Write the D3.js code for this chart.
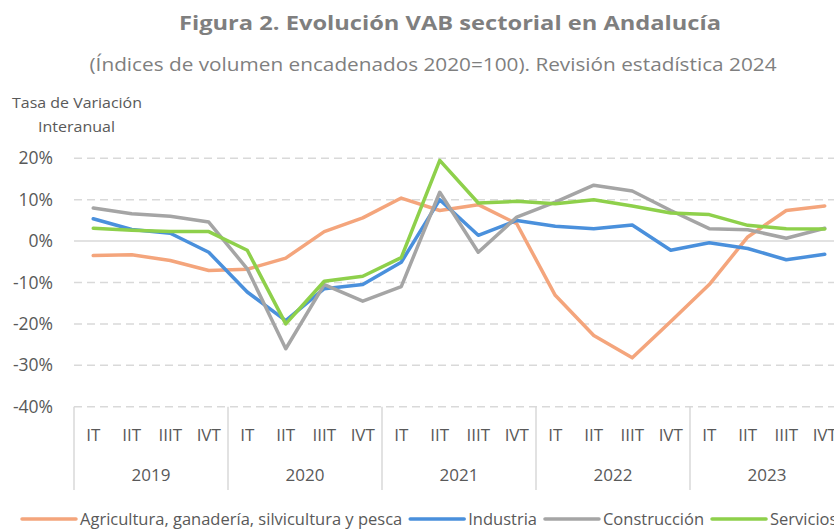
<!DOCTYPE html>
<html>
<head>
<meta charset="utf-8">
<script src="https://cdn.jsdelivr.net/npm/d3@7"></script>
<style>
  body { margin: 0; background: #fff; }
  svg { display: block; }
  .narrow { font-family: "Liberation Sans Narrow", "Open Sans", sans-serif; }
  .sans { font-family: "Open Sans", "Noto Sans", sans-serif; }
</style>
</head>
<body>
<div id="theChart"></div>
<script>
// quarters and years on the category axis
const years = ["2019", "2020", "2021", "2022", "2023"]
const quarters = ["IT", "IIT", "IIIT", "IVT"]
const yTicks = [20, 10, 0, -10, -20, -30, -40]

// series values (% year-on-year)
const agricultura = [-3.5, -3.3, -4.7, -7.1, -6.8, -4.1, 2.3, 5.6, 10.4, 7.4, 8.8, 4.2, -13.1, -22.8, -28.2, -19.4, -10.5, 1.0, 7.4, 8.5]
const industria = [5.4, 2.8, 1.9, -2.7, -12.3, -19.2, -11.5, -10.5, -5.1, 10.0, 1.4, 5.0, 3.6, 3.0, 3.9, -2.2, -0.4, -1.8, -4.5, -3.2]
const construccion = [8.0, 6.6, 6.0, 4.6, -6.7, -26.0, -10.5, -14.5, -11.0, 11.8, -2.7, 5.8, 9.4, 13.5, 12.1, 7.4, 3.0, 2.75, 0.7, 3.1]
const servicios = [3.1, 2.6, 2.3, 2.3, -2.2, -20.0, -9.7, -8.5, -4.0, 19.5, 9.2, 9.6, 9.0, 10.0, 8.5, 6.8, 6.4, 3.8, 3.0, 2.9]

const series = [
	{ name: "Agricultura, ganadería, silvicultura y pesca", values: agricultura, color: "#F4A57C" },
	{ name: "Industria", values: industria, color: "#4A90DC" },
	{ name: "Construcción", values: construccion, color: "#A5A5A5" },
	{ name: "Servicios", values: servicios, color: "#8ED04B" },
]

const w = 834
const h = 529
const plotLeft = 74
const plotRight = 844 // plot runs past the right edge, like the original
const plotTop = 158.3
const plotBottom = 406.7

const categories = []
years.forEach(y => quarters.forEach(q => categories.push(y + "-" + q)))

const svg = d3.select("#theChart").append("svg").attr("width", w).attr("height", h)

const x = d3.scaleBand().domain(categories).range([plotLeft, plotRight])
const xYear = d3.scaleBand().domain(years).range([plotLeft, plotRight])
const y = d3.scaleLinear().domain([-40, 20]).range([plotBottom, plotTop])

// title
svg.append("text")
	.attr("class", "sans")
	.attr("x", 450).attr("y", 30)
	.attr("text-anchor", "middle")
	.attr("font-size", 20).attr("font-weight", "bold")
	.attr("fill", "#7F7F7F")
	.attr("textLength", 542).attr("lengthAdjust", "spacingAndGlyphs")
	.text("Figura 2.  Evolución VAB sectorial en Andalucía")

svg.append("text")
	.attr("class", "sans")
	.attr("x", 433).attr("y", 71)
	.attr("text-anchor", "middle")
	.attr("font-size", 18.5)
	.attr("fill", "#7F7F7F")
	.attr("textLength", 687).attr("lengthAdjust", "spacingAndGlyphs")
	.text("(Índices de volumen encadenados 2020=100). Revisión estadística 2024")

// y axis title
svg.append("text")
	.attr("class", "sans")
	.attr("x", 12).attr("y", 108)
	.attr("font-size", 15).attr("fill", "#595959")
	.attr("textLength", 130).attr("lengthAdjust", "spacingAndGlyphs")
	.text("Tasa de Variación")
svg.append("text")
	.attr("class", "sans")
	.attr("x", 38).attr("y", 132)
	.attr("font-size", 15).attr("fill", "#595959")
	.attr("textLength", 77).attr("lengthAdjust", "spacingAndGlyphs")
	.text("Interanual")

// gridlines
svg.append("g")
	.selectAll("line")
	.data(yTicks)
	.enter()
	.append("line")
	.attr("x1", plotLeft).attr("x2", plotRight)
	.attr("y1", d => y(d)).attr("y2", d => y(d))
	.attr("stroke", "#D9D9D9")
	.attr("stroke-width", 1.5)
	.attr("stroke-dasharray", d => (d === 0 ? null : "8,5"))

// y tick labels
svg.append("g")
	.selectAll("text")
	.data(yTicks)
	.enter()
	.append("text")
	.attr("class", "sans")
	.attr("x", 53)
	.attr("y", d => y(d))
	.attr("dy", "0.35em")
	.attr("text-anchor", "end")
	.attr("font-size", 17.5)
	.attr("fill", "#595959")
	.text(d => d + "%")

// year separators under the plot
svg.append("g")
	.selectAll("line")
	.data(years)
	.enter()
	.append("line")
	.attr("x1", d => xYear(d)).attr("x2", d => xYear(d))
	.attr("y1", plotBottom).attr("y2", 490)
	.attr("stroke", "#D9D9D9")
	.attr("stroke-width", 1.5)

// quarter labels
svg.append("g")
	.selectAll("text")
	.data(categories)
	.enter()
	.append("text")
	.attr("class", "narrow")
	.attr("x", d => x(d) + x.bandwidth() / 2)
	.attr("y", 435)
	.attr("dy", "0.35em")
	.attr("text-anchor", "middle")
	.attr("font-size", 17)
	.attr("fill", "#595959")
	.text(d => d.split("-")[1])

// year labels
svg.append("g")
	.selectAll("text")
	.data(years)
	.enter()
	.append("text")
	.attr("class", "narrow")
	.attr("x", d => xYear(d) + xYear.bandwidth() / 2)
	.attr("y", 475)
	.attr("dy", "0.35em")
	.attr("text-anchor", "middle")
	.attr("font-size", 17)
	.attr("fill", "#595959")
	.text(d => d)

// lines
const line = d3.line()
	.x((d, i) => x(categories[i]) + x.bandwidth() / 2)
	.y(d => y(d))

svg.append("g")
	.selectAll("path")
	.data(series)
	.enter()
	.append("path")
	.attr("d", d => line(d.values))
	.attr("fill", "none")
	.attr("stroke", d => d.color)
	.attr("stroke-width", 3.5)
	.attr("stroke-linejoin", "round")
	.attr("stroke-linecap", "round")

// legend
const legend = svg.append("g").attr("id", "legend")
let lx = 22
series.forEach(s => {
	legend.append("line")
		.attr("x1", lx).attr("x2", lx + 54)
		.attr("y1", 519).attr("y2", 519)
		.attr("stroke", s.color)
		.attr("stroke-width", 3.5)
		.attr("stroke-linecap", "round")
	const t = legend.append("text")
		.attr("class", "narrow")
		.attr("x", lx + 58).attr("y", 519)
		.attr("dy", "0.35em")
		.attr("font-size", 16.5)
		.attr("fill", "#595959")
		.text(s.name)
	lx += 58 + t.node().getComputedTextLength() + 8
})
</script>
</body>
</html>
